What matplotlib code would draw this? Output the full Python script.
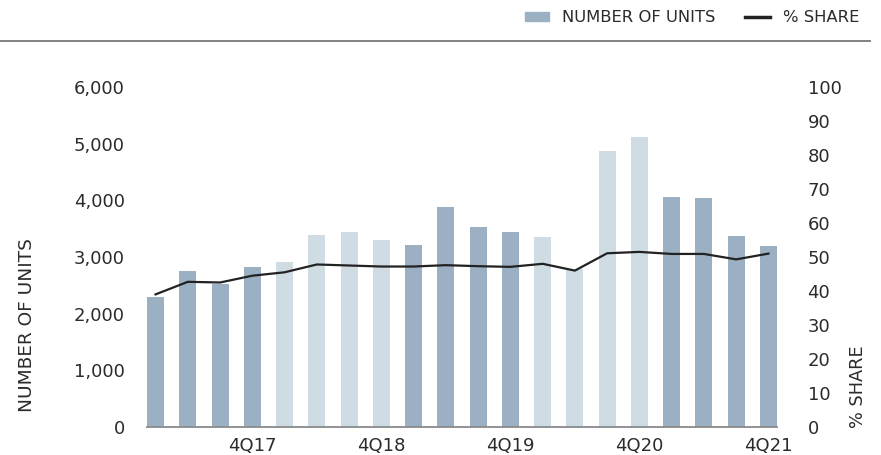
import matplotlib.pyplot as plt
from matplotlib.lines import Line2D
import numpy as np

plt.rcParams['font.family'] = ['DejaVu Sans']

quarters = [f'{q}Q{y}' for y in range(17, 22) for q in range(1, 5)]
units = [2290, 2750, 2520, 2820, 2910, 3390, 3440, 3300, 3210, 3880,
         3530, 3440, 3350, 2780, 4870, 5120, 4060, 4040, 3370, 3190]
share = [39.0, 42.7, 42.5, 44.5, 45.5, 47.8, 47.5, 47.2, 47.2, 47.6,
         47.3, 47.1, 48.0, 46.0, 51.1, 51.5, 50.9, 50.9, 49.3, 51.0]
# alternating shade per year
dark = '#9bb1c3'
light = '#cfdce4'
bar_colors = [dark if (i // 4) % 2 == 0 else light for i in range(len(units))]

txt = '#2b2b2b'

fig = plt.figure(figsize=(8.81, 4.55), dpi=100)
ax = fig.add_axes([147 / 881, 28 / 455, 630 / 881, 340 / 455])
x = np.arange(len(quarters))
ax.bar(x, units, width=0.53, color=bar_colors, zorder=2)
ax.set_xlim(-0.265, len(quarters) - 1 + 0.265)
ax.set_ylim(0, 6000)
ax.set_yticks(range(0, 6001, 1000))
ax.set_yticklabels([f'{v:,}' for v in range(0, 6001, 1000)])
tick_pos = [i for i, q in enumerate(quarters) if q.startswith('4Q')]
ax.set_xticks(tick_pos)
ax.set_xticklabels([quarters[i] for i in tick_pos])
for s in ['top', 'right', 'left']:
    ax.spines[s].set_visible(False)
ax.spines['bottom'].set_color('#8a8a8a')
ax.spines['bottom'].set_linewidth(1.3)
ax.tick_params(axis='both', length=0, labelsize=13, colors=txt)
ax.tick_params(axis='y', pad=16)
ax.tick_params(axis='x', pad=7)

ax2 = ax.twinx()
ax2.plot(x, share, color='#222222', linewidth=1.6, zorder=3)
ax2.set_ylim(0, 100)
ax2.set_yticks(range(0, 101, 10))
for s in ['top', 'right', 'left', 'bottom']:
    ax2.spines[s].set_visible(False)
ax2.tick_params(axis='y', length=0, labelsize=13, colors=txt, pad=22)

fig.text(27 / 881, 1 - 412 / 455, 'NUMBER OF UNITS', rotation=90, ha='center',
         va='bottom', fontsize=13.3, color=txt)
fig.text(858 / 881, 1 - 428 / 455, '% SHARE', rotation=90, ha='center',
         va='bottom', fontsize=12.8, color=txt)

# top rule under legend
fig.add_artist(Line2D([0, 870 / 881], [1 - 40.5 / 455] * 2, color='#777777',
                      linewidth=1.3, transform=fig.transFigure))

handles = [plt.Rectangle((0, 0), 1, 1, color=dark),
           Line2D([0], [0], color='#222222', linewidth=2.5)]
fig.legend(handles, ['NUMBER OF UNITS', '% SHARE'], loc='upper right',
           bbox_to_anchor=(874 / 881, 1.01), ncol=2, frameon=False,
           fontsize=11.8, labelcolor=txt, handlelength=1.5, handleheight=0.45,
           columnspacing=1.8, handletextpad=0.8)

fig.savefig('out.png', dpi=100)
